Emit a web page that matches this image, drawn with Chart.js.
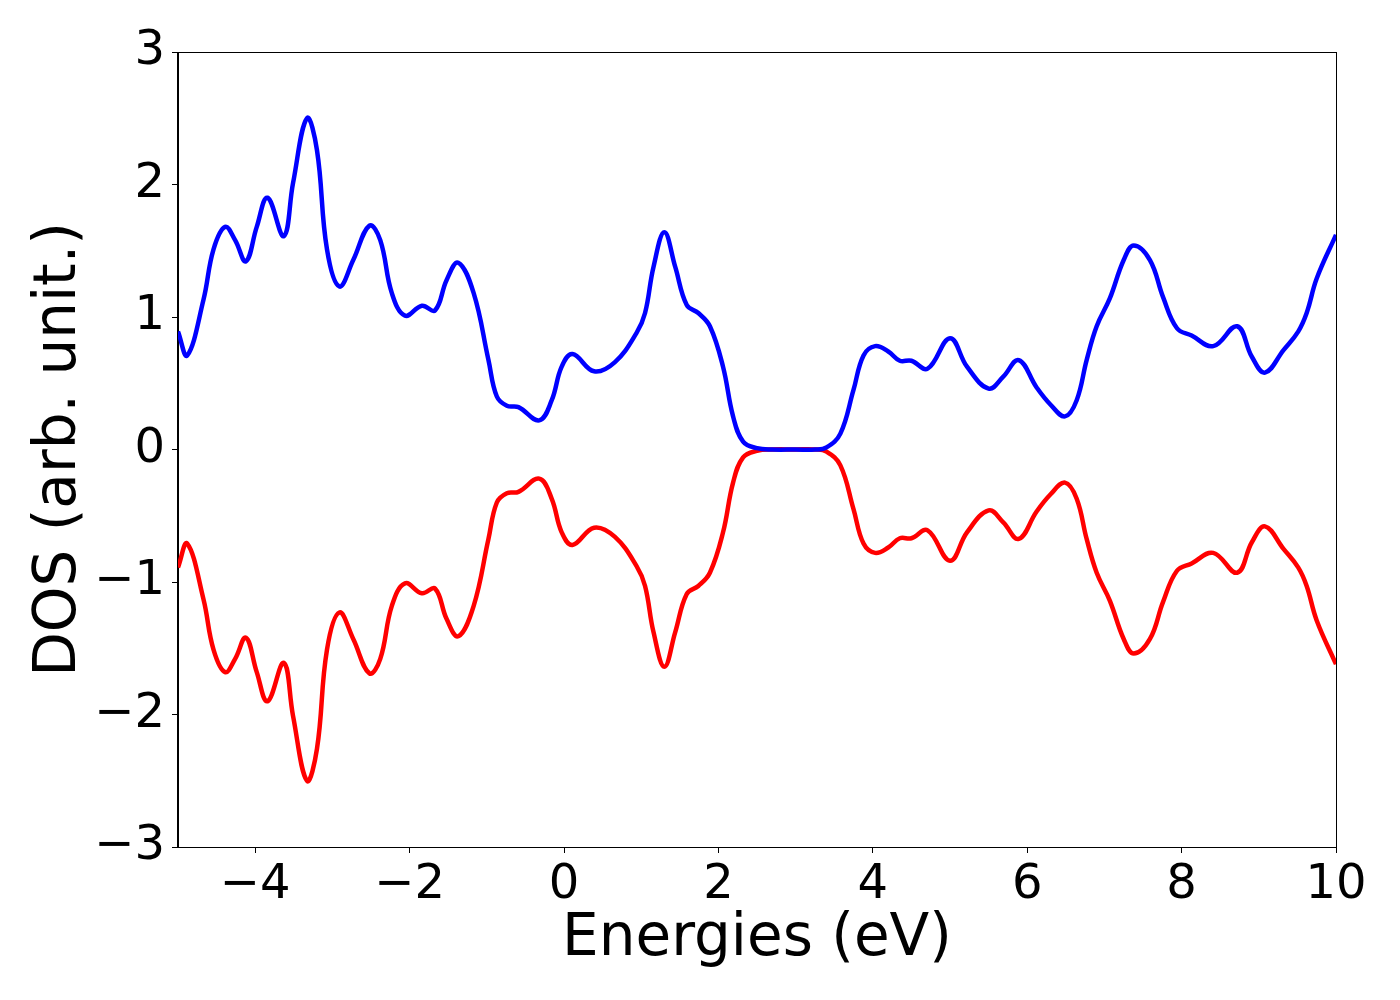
<!DOCTYPE html>
<html>
<head>
<meta charset="utf-8">
<script src="https://cdn.jsdelivr.net/npm/chart.js@4/dist/chart.umd.min.js"></script>
<style>
  html, body { margin: 0; padding: 0; background: #fff; }
  #wrap { width: 1400px; height: 1000px; }
</style>
</head>
<body>
<div id="wrap"><canvas id="dos" width="1400" height="1000"></canvas></div>
<script>
// energies (eV)
const energies = [
  -5.00, -4.88, -4.67, -4.54, -4.39, -4.26, -4.12, -3.98, -3.84, -3.63,
  -3.51, -3.33, -3.20, -3.07, -2.91, -2.73, -2.52, -2.38, -2.23, -2.06,
  -1.84, -1.67, -1.52, -1.37, -1.17, -0.98, -0.87, -0.74, -0.59, -0.32,
  -0.16, -0.03, 0.11, 0.39, 0.66, 0.94, 1.05, 1.16, 1.30, 1.44,
  1.59, 1.74, 1.89, 2.06, 2.19, 2.32, 2.50, 2.70, 3.00, 3.25,
  3.40, 3.58, 3.75, 3.88, 4.03, 4.20, 4.35, 4.50, 4.71, 5.00,
  5.22, 5.50, 5.69, 5.89, 6.12, 6.30, 6.49, 6.64, 6.77, 6.90,
  7.07, 7.25, 7.38, 7.59, 7.76, 7.94, 8.13, 8.41, 8.72, 8.91,
  9.08, 9.32, 9.51, 9.62, 9.75, 10.00
];

// spin up (blue)
const dosUp = [
  0.89, 0.71, 1.13, 1.51, 1.68, 1.58, 1.42, 1.68, 1.90, 1.61,
  2.01, 2.50, 2.26, 1.51, 1.23, 1.43, 1.69, 1.58, 1.18, 1.01,
  1.085, 1.05, 1.28, 1.41, 1.18, 0.68, 0.40, 0.33, 0.32, 0.22,
  0.37, 0.625, 0.72, 0.59, 0.66, 0.88, 1.03, 1.38, 1.64, 1.38,
  1.09, 1.03, 0.93, 0.625, 0.25, 0.06, 0.01, 0.00, 0.00, 0.00,
  0.016, 0.12, 0.45, 0.71, 0.78, 0.74, 0.67, 0.67, 0.61, 0.84,
  0.625, 0.46, 0.55, 0.675, 0.47, 0.34, 0.25, 0.37, 0.675, 0.93,
  1.14, 1.43, 1.54, 1.43, 1.15, 0.915, 0.86, 0.78, 0.93, 0.70,
  0.58, 0.75, 0.89, 1.03, 1.29, 1.62
];

// spin down (red)
const dosDown = [
  -0.89, -0.71, -1.13, -1.51, -1.68, -1.58, -1.42, -1.68, -1.90, -1.61,
  -2.01, -2.50, -2.26, -1.51, -1.23, -1.43, -1.69, -1.58, -1.18, -1.01,
  -1.085, -1.05, -1.28, -1.41, -1.18, -0.68, -0.40, -0.33, -0.32, -0.22,
  -0.37, -0.625, -0.72, -0.59, -0.66, -0.88, -1.03, -1.38, -1.64, -1.38,
  -1.09, -1.03, -0.93, -0.625, -0.25, -0.06, -0.01, 0.00, 0.00, 0.00,
  -0.016, -0.12, -0.45, -0.71, -0.78, -0.74, -0.67, -0.67, -0.61, -0.84,
  -0.625, -0.46, -0.55, -0.675, -0.47, -0.34, -0.25, -0.37, -0.675, -0.93,
  -1.14, -1.43, -1.54, -1.43, -1.15, -0.915, -0.86, -0.78, -0.93, -0.70,
  -0.58, -0.75, -0.89, -1.03, -1.29, -1.62
];

const xTicks = [-4, -2, 0, 2, 4, 6, 8, 10];
const yTicks = [-3, -2, -1, 0, 1, 2, 3];

const toPoints = (vals) => energies.map((e, i) => ({ x: e, y: vals[i] }));
const minus = (v) => String(v).replace('-', '\u2212');

// top and right spines
const frame = {
  id: 'frame',
  afterDraw(chart) {
    const { ctx, chartArea: a } = chart;
    ctx.save();
    ctx.strokeStyle = '#000';
    ctx.lineWidth = 1;
    ctx.strokeRect(a.left - 0.5, a.top + 0.5, a.right - a.left + 1, a.bottom - a.top);
    ctx.restore();
  }
};

const ctx = document.getElementById('dos').getContext('2d');
new Chart(ctx, {
  type: 'line',
  data: {
    datasets: [
      {
        label: 'up',
        data: toPoints(dosUp),
        borderColor: '#0000ff',
        borderWidth: 4.5,
        pointRadius: 0,
        tension: 0.4,
        fill: false
      },
      {
        label: 'down',
        data: toPoints(dosDown),
        borderColor: '#ff0000',
        borderWidth: 4.5,
        pointRadius: 0,
        tension: 0.4,
        fill: false
      }
    ]
  },
  options: {
    responsive: false,
    animation: false,
    layout: { padding: { left: 0, top: 52, right: 64, bottom: 0 } },
    plugins: {
      legend: { display: false },
      tooltip: { enabled: false }
    },
    scales: {
      x: {
        type: 'linear',
        min: -5,
        max: 10,
        afterBuildTicks: (s) => { s.ticks = xTicks.map(v => ({ value: v })); },
        afterFit: (s) => { s.height = 153; },
        grid: { drawOnChartArea: false, drawTicks: true, tickLength: 6, color: '#000' },
        border: { color: '#000', width: 1 },
        ticks: {
          color: '#000',
          padding: 4,
          maxRotation: 0,
          font: { family: 'DejaVu Sans', size: 48 },
          callback: (v) => minus(v)
        },
        title: {
          display: true,
          text: 'Energies (eV)',
          color: '#000',
          font: { family: 'DejaVu Sans', size: 58 },
          padding: { top: 0, bottom: 25 }
        }
      },
      y: {
        type: 'linear',
        min: -3,
        max: 3,
        afterBuildTicks: (s) => { s.ticks = yTicks.map(v => ({ value: v })); },
        afterFit: (s) => { s.width = 178; },
        grid: { drawOnChartArea: false, drawTicks: true, tickLength: 6, color: '#000' },
        border: { color: '#000', width: 1 },
        ticks: {
          color: '#000',
          padding: 7,
          font: { family: 'DejaVu Sans', size: 48 },
          callback: (v) => minus(v)
        },
        title: {
          display: true,
          text: 'DOS (arb. unit.)',
          color: '#000',
          font: { family: 'DejaVu Sans', size: 58 },
          padding: { top: 25, bottom: 0 }
        }
      }
    }
  },
  plugins: [frame]
});
</script>
</body>
</html>
